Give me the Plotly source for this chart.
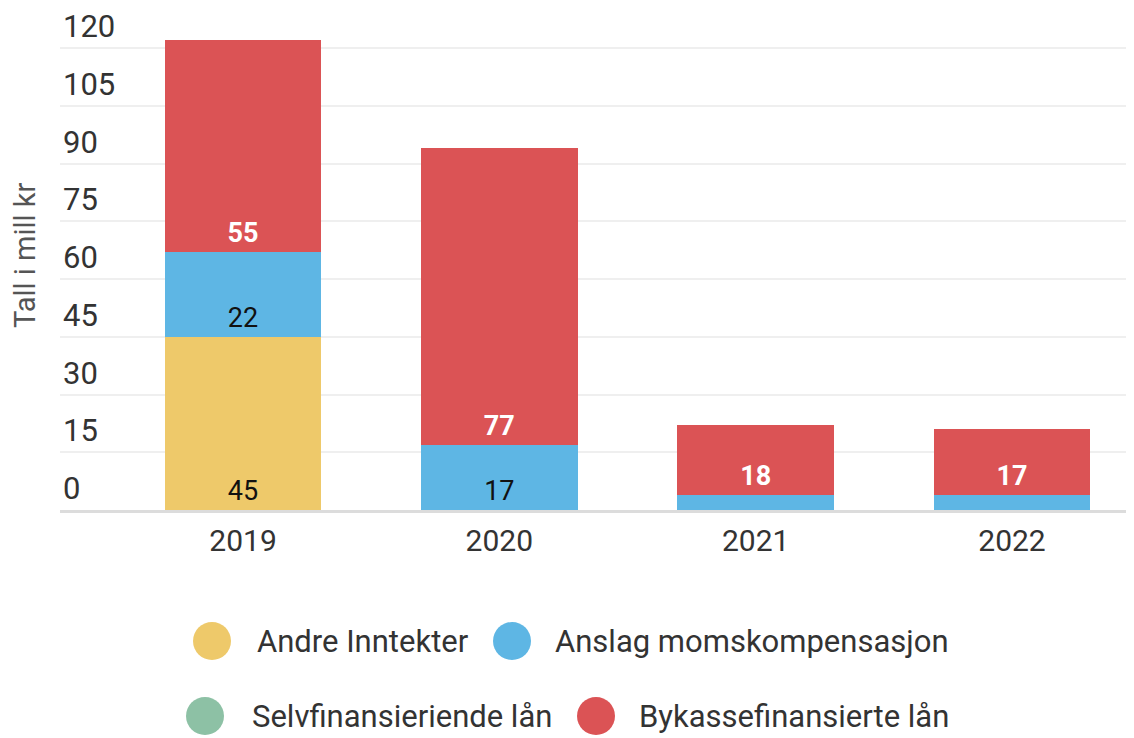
import plotly.graph_objects as go

years = ["2019", "2020", "2021", "2022"]
series_names = ["Andre Inntekter", "Anslag momskompensasjon", "Selvfinansieriende lån", "Bykassefinansierte lån"]
andre_inntekter = [45, 0, 0, 0]
anslag_moms = [22, 17, 4, 4]
selvfinans = [0, 0, 0, 0]
bykasse = [55, 77, 18, 17]
colors = ["#EEC96A", "#5EB6E4", "#8DC1A5", "#DB5355"]
label_colors = ["#111111", "#111111", "#111111", "#ffffff"]
y_ticks = [0, 15, 30, 45, 60, 75, 90, 105, 120]

OFF = 8  # page body margin
W, H = 1134 - OFF, 738 - OFF
# plot area in screen pixels: left 60, right 1134, top 8, bottom 510
ML = 60 - OFF
MR = 0
MT = 8 - OFF
MB = H - (510 - OFF)
PW, PH = W - ML - MR, H - MT - MB
px_per_unit = (510 - 48) / 120.0
y_top = (510 - 8) / px_per_unit

fig = go.Figure()
all_vals = [andre_inntekter, anslag_moms, selvfinans, bykasse]
for name, vals, col, lc in zip(series_names, all_vals, colors, label_colors):
    texts = [str(v) if v >= 10 else "" for v in vals]
    fig.add_trace(go.Bar(
        x=years, y=vals, name=name, marker=dict(color=col, line=dict(width=0)),
        text=texts, textposition="inside", insidetextanchor="start",
        textangle=0,
        textfont=dict(family="Roboto", size=27, color=lc,
                      weight="bold" if lc == "#ffffff" else "normal"),
        width=0.61, showlegend=False,
    ))

fig.update_layout(
    barmode="stack",
    width=W, height=H,
    margin=dict(l=ML, r=MR, t=MT, b=MB),
    plot_bgcolor="white", paper_bgcolor="white",
    font=dict(family="Roboto", color="#333333"),
)
fig.update_xaxes(
    range=[-0.714, 3.476], showgrid=False,
    showline=True, linecolor="#dcdcdc", linewidth=3,
    ticks="", tickfont=dict(size=30, color="#333333"), ticklabelstandoff=2,
)
fig.update_yaxes(
    range=[0, y_top], tickvals=y_ticks, ticktext=[str(t) for t in y_ticks],
    ticklabelposition="inside top", tickfont=dict(size=31, color="#333333"),
    showgrid=True, gridcolor="#efefef", gridwidth=2, zeroline=False,
    showline=False,
)

def px_x(px):
    return (px - OFF - ML) / PW
def px_y(py):
    return (MT + PH - (py - OFF)) / PH

# Y-axis title
fig.add_annotation(
    text="Tall i mill kr", textangle=-90, xref="paper", yref="paper",
    x=px_x(25), y=px_y(256), showarrow=False,
    font=dict(family="Roboto", size=29, color="#555555"),
    xanchor="center", yanchor="middle",
)

# Manual legend (circles + labels)
legend_items = [
    (212, 641, 255),
    (512, 641, 553),
    (205, 716, 250),
    (596, 716, 637),
]

for (cx, cy, tx), name, col in zip(legend_items, series_names, colors):
    fig.add_shape(
        type="circle", xref="paper", yref="paper",
        xsizemode="pixel", ysizemode="pixel",
        xanchor=px_x(cx), yanchor=px_y(cy),
        x0=-19, x1=19, y0=-19, y1=19,
        fillcolor=col, line=dict(width=0),
    )
    fig.add_annotation(
        text=name, xref="paper", yref="paper", x=px_x(tx), y=px_y(cy),
        xanchor="left", yanchor="middle", showarrow=False,
        font=dict(family="Roboto", size=31, color="#333333"),
    )

fig.write_html("out.html")
